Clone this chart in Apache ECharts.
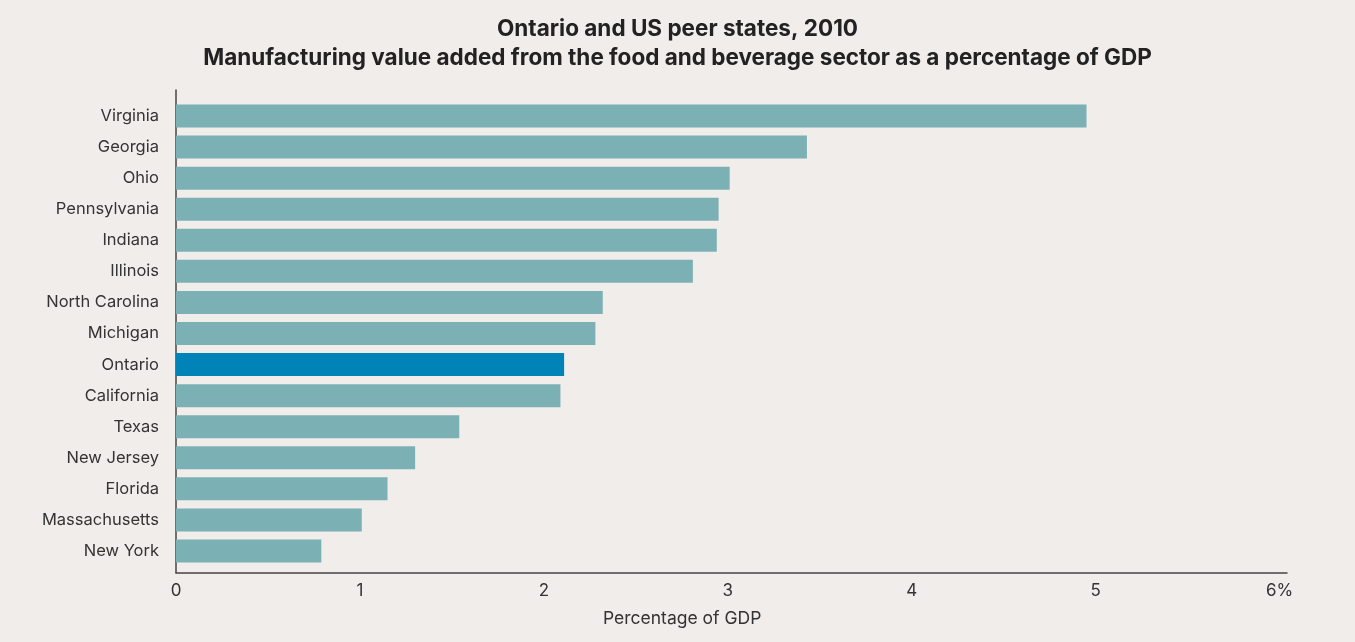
<!DOCTYPE html>
<html>
<head>
<meta charset="utf-8">
<title>Ontario and US peer states, 2010</title>
<script src="https://cdn.jsdelivr.net/npm/echarts@6/dist/echarts.min.js"></script>
<style>
  html, body { margin: 0; padding: 0; background: #f1edea; }
  #chart { width: 1355px; height: 642px; }
</style>
</head>
<body>
<div id="chart"></div>
<script>
// Food and beverage manufacturing value added, % of GDP (2010)
const regions = [
  'Virginia', 'Georgia', 'Ohio', 'Pennsylvania', 'Indiana', 'Illinois',
  'North Carolina', 'Michigan', 'Ontario', 'California', 'Texas',
  'New Jersey', 'Florida', 'Massachusetts', 'New York'
];
const shareOfGdp = [
  4.95, 3.43, 3.01, 2.95, 2.94, 2.81,
  2.32, 2.28, 2.11, 2.09, 1.54,
  1.30, 1.15, 1.01, 0.79
];
const highlighted = 'Ontario';
const xTicks = [0, 1, 2, 3, 4, 5, 6];

const FONT = 'Inter';
const TEXT = '#333333';
const BAR = '#7bb1b5';
const BAR_HI = '#0083b6';
const AXIS_MAX = 6.04;

const chart = echarts.init(document.getElementById('chart'), null, { renderer: 'canvas' });

chart.setOption({
  backgroundColor: '#f1edea',
  animation: false,
  textStyle: { fontFamily: FONT },
  title: [
    {
      text: 'Ontario and US peer states, 2010\nManufacturing value added from the food and beverage sector as a percentage of GDP',
      left: 'center',
      top: 10,
      padding: [5, 0, 5, 10],
      textStyle: {
        fontFamily: FONT, fontWeight: 'bold', fontSize: 22.5,
        lineHeight: 29, color: '#222222'
      }
    },
    {
      text: 'Percentage of GDP',
      left: 598,
      top: 605,
      textStyle: { fontFamily: FONT, fontWeight: 'normal', fontSize: 17.5, color: TEXT }
    }
  ],
  grid: [
    // bars
    { left: 176, right: 68, top: 100.5, height: 466, containLabel: false },
    // frame with the axis lines and tick labels
    { left: 176, right: 68, top: 90, height: 482.7, containLabel: false }
  ],
  xAxis: [
    {
      gridIndex: 0, type: 'value', min: 0, max: AXIS_MAX, interval: 1,
      show: false
    },
    {
      gridIndex: 1, type: 'value', min: 0, max: AXIS_MAX, interval: 1,
      axisLine: { show: true, lineStyle: { color: '#444444', width: 1.5 } },
      axisTick: { show: false },
      splitLine: { show: false },
      axisLabel: {
        margin: 10,
        fontFamily: FONT, fontSize: 17, color: TEXT,
        formatter: v => {
          if (!xTicks.includes(v)) return '';
          return v === xTicks[xTicks.length - 1] ? v + '%' : String(v);
        }
      }
    }
  ],
  yAxis: [
    {
      gridIndex: 0, type: 'category', data: regions, inverse: true,
      axisLine: { show: false },
      axisTick: { show: false },
      axisLabel: { margin: 17, fontFamily: FONT, fontSize: 16.5, color: TEXT }
    },
    {
      gridIndex: 1, type: 'value', min: 0, max: 1,
      axisLine: { show: true, lineStyle: { color: '#444444', width: 1.5 } },
      axisTick: { show: false },
      axisLabel: { show: false },
      splitLine: { show: false }
    }
  ],
  series: [
    {
      type: 'bar',
      xAxisIndex: 0,
      yAxisIndex: 0,
      barWidth: 23,
      data: shareOfGdp.map((v, i) => ({
        value: v,
        itemStyle: { color: regions[i] === highlighted ? BAR_HI : BAR }
      })),
      label: { show: false }
    }
  ]
});
</script>
</body>
</html>
